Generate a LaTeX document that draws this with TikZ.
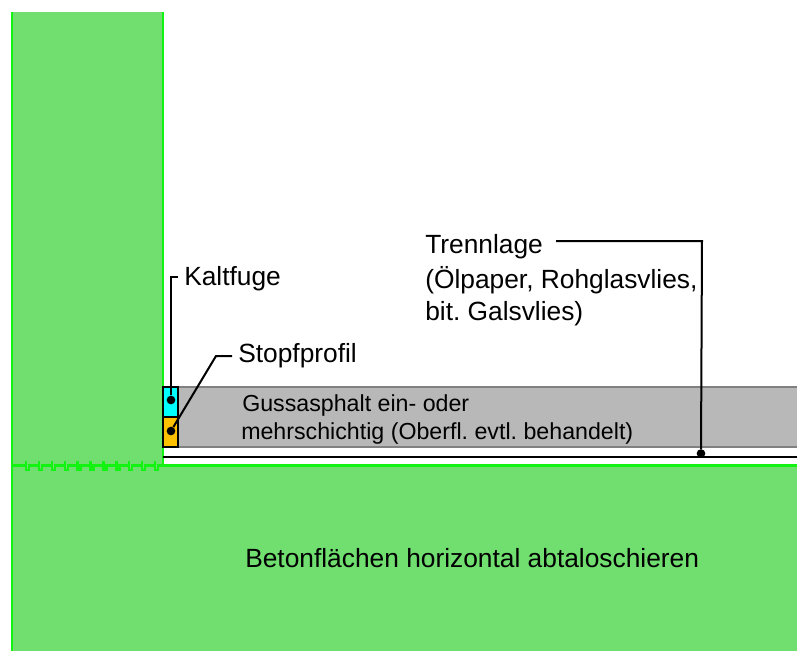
\documentclass[tikz,border=0pt]{standalone}
\usepackage{fontspec}
\setmainfont{Liberation Sans}
\frenchspacing
\definecolor{beton}{HTML}{70DF70}
\definecolor{kante}{HTML}{12F312}
\definecolor{guss}{HTML}{B8B8B8}
\definecolor{gussrand}{HTML}{808080}
\definecolor{kaltblau}{HTML}{00FFFF}
\definecolor{stopfgelb}{HTML}{FFC000}
\begin{document}
\begin{tikzpicture}[x=0.75pt,y=-0.75pt]
	\tikzstyle{label}=[inner sep=0pt,anchor=base west,font=\fontsize{19.75pt}{24pt}\selectfont]
	\tikzstyle{small}=[inner sep=0pt,anchor=base west,font=\fontsize{17.4pt}{20pt}\selectfont]
	\tikzstyle{leader}=[black,line width=1.5pt]
	\tikzstyle{dot}=[circle,fill=black,minimum size=6.5pt,inner sep=0pt]
	\tikzstyle{edge}=[kante,line width=1.8pt]
	\tikzstyle{fuge}=[draw=black,line width=1.5pt,minimum width=11.25pt,minimum height=22.5pt,inner sep=0pt,outer sep=0pt,anchor=north west]
	\useasboundingbox (0,0) rectangle (797,651);
	% beton
	\fill[beton] (12,12) rectangle (163,466);
	\fill[beton] (12,466) rectangle (797,651);
	\draw[edge] (12,12) -- (12,651);
	\draw[edge] (163,12) -- (163,465.5) -- (797,465.5);
	\draw[edge] (12,465.5)
		\foreach \i in {0,...,10} {-- (26+12.9*\i,465.5) -- (26+12.9*\i,461) -- (26+12.9*\i,470) -- (29+12.9*\i,470) -- (29+12.9*\i,465.5)}
		-- (163,465.5);
	% gussasphalt
	\fill[guss] (178,387) rectangle (797,447);
	\draw[gussrand,line width=1.5pt] (178,387) -- (797,387) (178,447) -- (797,447);
	\node[fuge,fill=kaltblau] (blau) at (163,387) {};
	\node[fuge,fill=stopfgelb] (gelb) at (163,417) {};
	\draw[black,line width=2.2pt] (163,457) -- (797,457);
	% dots
	\node[dot] (d_1) at (171,400) {};
	\node[dot] (d_2) at (171,431) {};
	\node[dot] (d_3) at (701,453.5) {};
	% labels
	\node[label] (kalt) at (184,285) {Kaltfuge};
	\node[label] (stopf) at (238,362) {Stopfprofil};
	\node[label] (trenn_1) at (425,253) {Trennlage};
	\node[label] (trenn_2) at (425,288) {(Ölpaper, Rohglasvlies,};
	\node[label] (trenn_3) at (425,320) {bit. Galsvlies)};
	\node[small] (guss_1) at (242,411) {Gussasphalt ein- oder};
	\node[small] (guss_2) at (241,439.5) {mehrschichtig (Oberfl. evtl. behandelt)};
	\node[label] (beton) at (245,567) {Betonflächen horizontal abtaloschieren};
	% leaders
	\coordinate (k_1) at (171,277);
	\coordinate (k_2) at (178,277);
	\coordinate (s_1) at (216,356);
	\coordinate (s_2) at (232,356);
	\coordinate (t_1) at (702,241);
	\coordinate (t_2) at (556,241);
	\draw[leader] (d_1) -- (k_1) -- (k_2);
	\draw[leader] (d_2) -- (s_1) -- (s_2);
	\draw[leader] (d_3) -- (t_1) -- (t_2);
\end{tikzpicture}
\end{document}
